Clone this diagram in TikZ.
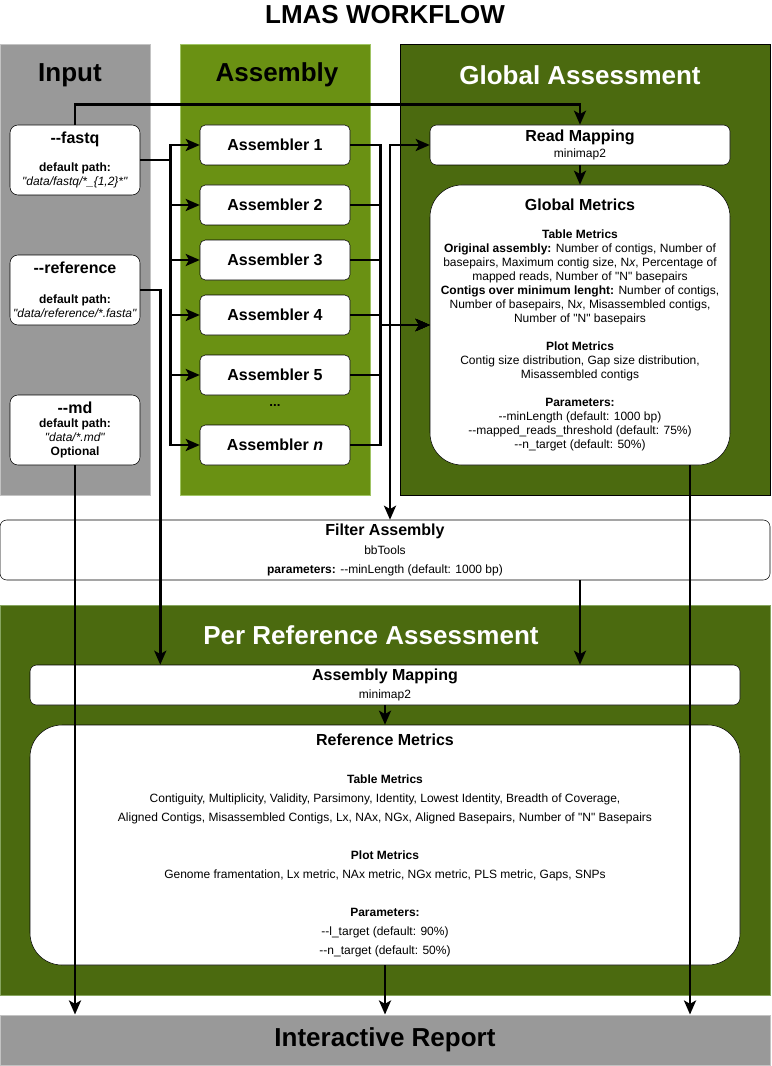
\documentclass[tikz,border=0pt]{standalone}
\usepackage{fontspec}
\setmainfont{Liberation Sans}[Ligatures=TeXOff]
\usepackage{tikz}
\usetikzlibrary{arrows.meta,positioning,calc}
\definecolor{lmasgray}{RGB}{153,153,153}
\definecolor{lmasgrayline}{RGB}{195,195,195}
\definecolor{lmasgreen}{RGB}{106,145,19}
\definecolor{lmasgreenline}{RGB}{160,196,100}
\definecolor{lmasdark}{RGB}{75,106,15}
\definecolor{lmasdarkline}{RGB}{135,165,95}

\begin{document}
\begin{tikzpicture}[x=0.75pt, y=-0.75pt,
    lane/.style={rectangle, inner sep=0pt, line width=0.75pt},
    header/.style={font=\fontsize{19.5}{22}\selectfont\bfseries},
    inbox/.style={rectangle, draw, fill=white, rounded corners=6pt, minimum width=97.5pt, minimum height=52.5pt, inner sep=0pt, align=center, font=\fontsize{9}{10.5}\selectfont},
    asmbox/.style={rectangle, draw, fill=white, rounded corners=4pt, minimum width=112.5pt, minimum height=30pt, inner sep=0pt, font=\fontsize{12}{14}\selectfont\bfseries},
    widebox/.style={rectangle, draw, fill=white, rounded corners=5pt, minimum height=30pt, inner sep=0pt, align=center},
    metricbox/.style={rectangle, draw, fill=white, rounded corners=24pt, inner sep=0pt, align=center},
    arrow/.style={-{Stealth[length=10.5pt,width=9pt,inset=2.5pt]}, line width=2pt}
]
    \useasboundingbox (0,0) rectangle (771,1066);

    \node[header] (title) at (385,15) {LMAS WORKFLOW};

    \node[lane, fill=lmasgray, draw=lmasgrayline, minimum width=112.5pt, minimum height=337.5pt] (inputlane) at (75,270) {};
    \node[lane, fill=lmasgreen, draw=lmasgreenline, minimum width=142.5pt, minimum height=337.5pt] (asmlane) at (275,270) {};
    \node[lane, fill=lmasdark, draw=black, minimum width=277.5pt, minimum height=337.5pt] (globlane) at (585,270) {};
    \node[lane, fill=lmasdark, draw=lmasdarkline, minimum width=577.5pt, minimum height=292.5pt] (reflane) at (385,800) {};

    \node[header] (inputtitle) at (70,75) {Input};
    \node[header] (asmtitle) at (277,75) {Assembly};
    \node[header, text=white] (globtitle) at (580,75) {Global Assessment};
    \node[header, text=white] (reftitle) at (371,635) {Per Reference Assessment};

    \node[inbox] (fastq) at (75,160) {{\fontsize{12}{10.5}\selectfont\bfseries --fastq}\\[10.5pt]
        \textbf{default path:}\\ \textit{"data/fastq/*\_\{1,2\}*"}};
    \node[inbox] (ref) at (75,290) {{\fontsize{12}{10.5}\selectfont\bfseries --reference}\\[12pt]
        \textbf{default path:}\\ \textit{"data/reference/*.fasta"}};
    \node[inbox] (md) at (75,430) {{\fontsize{12}{10.5}\selectfont\bfseries --md}\\
        \textbf{default path:}\\ \textit{"data/*.md"}\\ \textbf{Optional}};

    \foreach \i/\y/\t in {1/145/1, 2/205/2, 3/260/3, 4/315/4, 5/375/5, 6/445/\textit{n}}
        \node[asmbox] (asm\i) at (275,\y) {Assembler \t};
    \node[font=\fontsize{10}{12}\selectfont\bfseries] (dots) at (275,406) {...};

    \node[widebox, minimum width=225pt, font=\fontsize{9}{12}\selectfont] (readmap) at (580,145)
        {{\fontsize{12}{12}\selectfont\bfseries Read Mapping}\\ minimap2};

    \node[metricbox, minimum width=225pt, minimum height=210pt, font=\fontsize{9}{10.5}\selectfont] (globmet) at (580,325)
        {{\fontsize{12}{10.5}\selectfont\bfseries Global Metrics}\\[10.5pt]
        \textbf{Table Metrics}\\
        \textbf{Original assembly:} Number of contigs, Number of\\
        basepairs, Maximum contig size, N\textit{x}, Percentage of\\
        mapped reads, Number of "N" basepairs\\
        \textbf{Contigs over minimum lenght:} Number of contigs,\\
        Number of basepairs, N\textit{x}, Misassembled contigs,\\
        Number of "N" basepairs\\[10.5pt]
        \textbf{Plot Metrics}\\
        Contig size distribution, Gap size distribution,\\
        Misassembled contigs\\[10.5pt]
        \textbf{Parameters:}\\
        --minLength (default: 1000 bp)\\
        --mapped\_reads\_threshold (default: 75\%)\\
        --n\_target (default: 50\%)};

    \node[widebox, minimum width=577.5pt, minimum height=45pt, font=\fontsize{9}{14.25}\selectfont] (filter) at (385,550)
        {{\fontsize{12}{14.25}\selectfont\bfseries Filter Assembly}\\ bbTools\\
        \textbf{parameters:} --minLength (default: 1000 bp)};

    \node[widebox, minimum width=532.5pt, font=\fontsize{9}{14}\selectfont] (asmmap) at (385,685)
        {{\fontsize{12}{14}\selectfont\bfseries Assembly Mapping}\\ minimap2};

    \node[metricbox, minimum width=532.5pt, minimum height=180pt, font=\fontsize{9}{14.25}\selectfont] (refmet) at (385,845)
        {{\fontsize{12}{14.25}\selectfont\bfseries Reference Metrics}\\[14.25pt]
        \textbf{Table Metrics}\\
        Contiguity, Multiplicity, Validity, Parsimony, Identity, Lowest Identity, Breadth of Coverage,\\
        Aligned Contigs, Misassembled Contigs, Lx, NAx, NGx, Aligned Basepairs, Number of "N" Basepairs\\[14.25pt]
        \textbf{Plot Metrics}\\
        Genome framentation, Lx metric, NAx metric, NGx metric, PLS metric, Gaps, SNPs\\[14.25pt]
        \textbf{Parameters:}\\
        --l\_target (default: 90\%)\\
        --n\_target (default: 50\%)};

    \node[lane, fill=lmasgray, draw=lmasgrayline, minimum width=577.5pt, minimum height=37.5pt, header] (report) at (385,1040) {Interactive Report};

    \draw[arrow] (fastq.north) -- ++(0,-20) -| (readmap.north);
    \foreach \i in {1,...,6}
        \draw[arrow] (fastq.east) -- ++(30,0) |- (asm\i.west);
    \foreach \i in {1,...,6}
        \draw[arrow] (asm\i.east) -- ++(30,0) |- (globmet.west);
    \coordinate (split) at (390,325);
    \draw[arrow] (split) |- (readmap.west);
    \draw[arrow] (split) -- (split |- filter.north);
    \draw[arrow] (readmap) -- (globmet);
    \draw[arrow] (ref.east) -- ++(20,0) coordinate (refturn) -- (refturn |- asmmap.north);
    \draw[arrow] (filter.south -| readmap.south) -- (asmmap.north -| readmap.south);
    \draw[arrow] (asmmap) -- (refmet);
    \draw[arrow] (refmet) -- (report);
    \draw[arrow] (md) -- (md |- report.north);
    \draw[arrow] ($(globmet.south)+(110,0)$) -- ($(report.north)+(305,0)$);
\end{tikzpicture}
\end{document}
